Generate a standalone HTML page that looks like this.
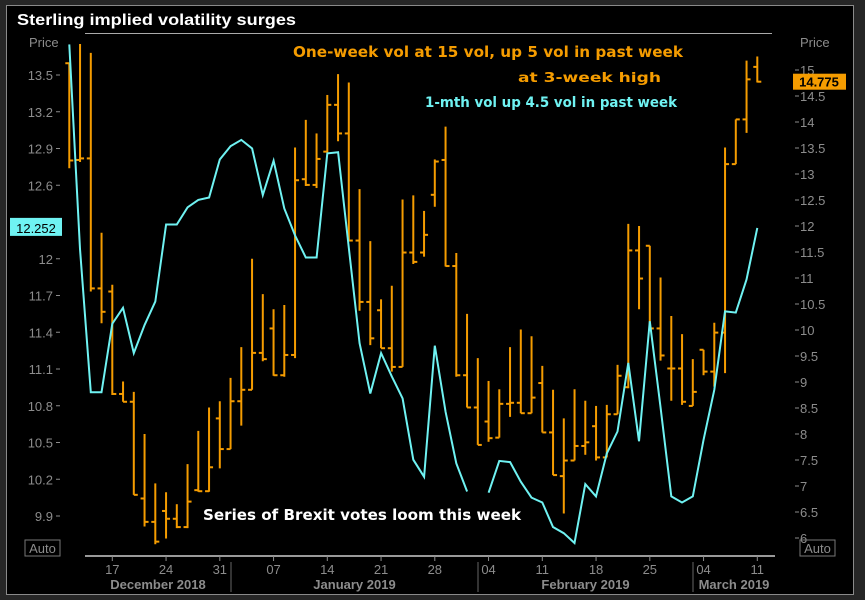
<!DOCTYPE html>
<html><head><meta charset="utf-8"><style>
body{margin:0;background:#262626;width:865px;height:600px;overflow:hidden;font-family:"Liberation Sans",sans-serif;}
#frame{position:absolute;left:6px;top:5px;width:846px;height:588px;background:#000;border:1px solid #8a8a8a;}
svg{position:absolute;left:0;top:0;}
.ann{font-family:"DejaVu Sans","Liberation Sans",sans-serif;font-weight:bold;}
</style></head><body>
<div id="frame"></div>
<svg id="chart" width="865" height="600">
<text x="17" y="25" fill="#fff" font-weight="bold" font-size="16" textLength="279" lengthAdjust="spacingAndGlyphs">Sterling implied volatility surges</text>
<line x1="85" y1="33.5" x2="772" y2="33.5" stroke="#aaa" stroke-width="1"/>
<text x="29" y="47" fill="#8c8c8c" font-size="13">Price</text>
<text x="800" y="47" fill="#8c8c8c" font-size="13">Price</text>
<text class="ann" x="293" y="57" fill="#f59c00" font-size="15" textLength="390" lengthAdjust="spacingAndGlyphs">One-week vol at 15 vol, up 5 vol in past week</text>
<text class="ann" x="518" y="82" fill="#f59c00" font-size="13" textLength="143" lengthAdjust="spacingAndGlyphs">at 3-week high</text>
<text class="ann" x="425" y="107" fill="#6ff2f2" font-size="14" textLength="252" lengthAdjust="spacingAndGlyphs">1-mth vol up 4.5 vol in past week</text>
<text class="ann" x="203" y="520" fill="#fff" font-size="15" textLength="318" lengthAdjust="spacingAndGlyphs">Series of Brexit votes loom this week</text>
<g id="axes"></g><g id="marks"></g><g id="labels"></g>
</svg>
<script>
const categories = ["Dec11","Dec12","Dec13","Dec14","Dec17","Dec18","Dec19","Dec20","Dec21","Dec24","Dec26","Dec27","Dec28","Dec31","Jan02","Jan03","Jan04","Jan07","Jan08","Jan09","Jan10","Jan11","Jan14","Jan15","Jan16","Jan17","Jan18","Jan21","Jan22","Jan23","Jan24","Jan25","Jan28","Jan29","Jan30","Jan31","Feb01","Feb04","Feb05","Feb06","Feb07","Feb08","Feb11","Feb12","Feb13","Feb14","Feb15","Feb18","Feb19","Feb20","Feb21","Feb22","Feb25","Feb26","Feb27","Feb28","Mar01","Mar04","Mar05","Mar06","Mar07","Mar08","Mar11","Mar12","Mar12b"];
const oneMonth = [13.75,12.08,10.91,10.91,11.47,11.60,11.23,11.46,11.65,12.28,12.28,12.42,12.48,12.50,12.81,12.92,12.97,12.90,12.52,12.80,12.41,12.19,12.01,12.01,12.86,12.87,12.09,11.31,10.90,11.23,11.04,10.86,10.36,10.22,11.29,10.75,10.33,10.10,null,10.09,10.35,10.34,10.18,10.05,10.01,9.81,9.76,9.68,10.16,10.06,10.41,10.59,11.15,10.51,11.49,10.79,10.06,10.01,10.06,10.52,10.93,11.57,11.56,11.83,12.252];
const wkOpen = [15.13,13.27,13.30,10.80,10.74,8.77,8.62,6.76,6.31,6.52,6.37,6.21,6.92,6.90,8.30,7.71,8.63,8.85,9.56,10.03,9.13,9.52,12.90,12.79,13.43,14.33,13.78,11.72,10.54,10.38,9.65,9.29,11.49,11.49,12.60,13.27,11.23,9.13,8.51,8.24,7.93,8.58,8.60,8.40,8.98,8.03,7.19,7.49,7.77,8.15,7.55,8.38,8.90,11.53,11.62,10.03,9.26,9.26,8.54,9.62,9.20,9.95,13.19,14.05,15.06];
const wkHigh = [15.13,15.50,15.33,11.87,10.87,9.01,8.81,8.00,7.05,6.88,6.65,7.42,8.06,8.51,8.63,9.08,9.67,11.37,10.69,10.40,10.48,13.51,14.04,13.78,14.52,14.92,14.76,12.71,11.71,10.59,10.85,12.51,12.59,12.29,13.28,13.91,11.48,10.31,9.46,9.02,8.86,9.67,10.01,9.88,9.31,8.85,8.30,8.86,8.64,8.54,8.56,9.33,12.04,12.00,11.62,11.01,10.27,9.92,9.44,9.62,10.14,13.51,14.05,15.18,15.26];
const wkLow = [13.11,13.23,10.74,10.13,8.75,8.62,6.83,6.22,5.88,5.99,6.19,6.19,6.89,6.89,7.34,7.71,8.16,8.85,9.40,9.12,9.10,9.46,12.77,12.73,13.41,13.63,11.72,10.37,9.71,9.65,9.20,9.29,11.27,11.41,12.37,11.22,9.10,8.51,7.79,7.85,7.93,8.33,8.40,8.40,8.03,7.21,6.47,7.49,7.60,7.49,7.55,8.38,8.88,10.40,9.99,9.41,8.64,8.56,8.54,9.13,8.91,9.17,13.19,13.79,14.76];
const wkClose = [13.26,13.30,10.80,10.35,8.77,8.62,6.83,6.31,5.93,6.37,6.21,6.70,6.90,7.36,7.71,8.63,8.85,9.56,9.44,9.13,9.52,12.88,12.79,13.29,14.33,13.78,11.72,10.54,9.84,9.65,9.29,11.49,11.31,11.83,13.24,11.23,9.13,8.51,7.79,7.92,8.58,8.60,8.40,8.70,8.03,7.21,7.49,7.77,7.84,7.55,8.38,9.12,11.53,10.99,10.03,9.51,9.26,8.62,8.81,9.20,9.95,13.19,14.05,14.82,14.775];
const leftTicks = [13.5,13.2,12.9,12.6,12.3,12,11.7,11.4,11.1,10.8,10.5,10.2,9.9];
const rightTicks = [15,14.5,14,13.5,13,12.5,12,11.5,11,10.5,10,9.5,9,8.5,8,7.5,7,6.5,6];
const xTickLabels = ["17","24","31","07","14","21","28","04","11","18","25","04","11"];
const xTickIndex = [4,9,14,19,24,29,34,39,44,49,54,59,64];
const monthLabels = ["December 2018","January 2019","February 2019","March 2019"];

const NS="http://www.w3.org/2000/svg";
const X0=69.3, DX=10.75;
const x = i => X0 + i*DX;
const yL = v => 75 + (13.5 - v)*122.5;
const yR = v => 70 + (15 - v)*52;
function mk(tag, attrs, parent, text){const e=document.createElementNS(NS,tag);for(const k in attrs)e.setAttribute(k,attrs[k]);if(text!==undefined)e.textContent=text;parent.appendChild(e);return e;}
const axes=document.getElementById('axes'), marks=document.getElementById('marks'), labels=document.getElementById('labels');

leftTicks.forEach(v=>{
  const t=mk('text',{x:53,y:yL(v)+5,fill:'#8c8c8c','font-size':13,'text-anchor':'end'},axes,String(v));
  
  
  const l=mk('line',{x1:56,x2:60,y1:yL(v),y2:yL(v),stroke:'#8c8c8c'},axes);
  
  
});
rightTicks.forEach(v=>{
  const l=mk('line',{x1:795,x2:799,y1:yR(v),y2:yR(v),stroke:'#8c8c8c'},axes);
  
  
  const t=mk('text',{x:800,y:yR(v)+5,fill:'#8c8c8c','font-size':13},axes,String(v));
  
  
});
const ax=mk('line',{x1:85,x2:775,y1:556,y2:556,stroke:'#ccc','stroke-width':1.5},axes);


xTickLabels.forEach((s,k)=>{
  const xx=x(xTickIndex[k]);
  const l=mk('line',{x1:xx,x2:xx,y1:556,y2:561,stroke:'#8c8c8c'},axes);
  
  
  const t=mk('text',{x:xx,y:574,fill:'#8c8c8c','font-size':13,'text-anchor':'middle'},axes,s);
  
  
});
const monthBounds=[85,231,478,693,775];
monthLabels.forEach((m,k)=>{
  const t=mk('text',{x:(monthBounds[k]+monthBounds[k+1])/2,y:589,fill:'#8c8c8c','font-size':13,'font-weight':'bold','text-anchor':'middle'},axes,m);
  
  
  if(k>0){const l=mk('line',{x1:monthBounds[k],x2:monthBounds[k],y1:562,y2:592,stroke:'#666'},axes);
  
  }
});

wkOpen.forEach((o,i)=>{
  const g=mk('g',{stroke:'#f59c00','stroke-width':2},marks);
  
  
  const xx=x(i);
  mk('line',{x1:xx,x2:xx,y1:yR(wkHigh[i]),y2:yR(wkLow[i])},g);
  mk('line',{x1:xx-4,x2:xx,y1:yR(o),y2:yR(o)},g);
  mk('line',{x1:xx,x2:xx+4,y1:yR(wkClose[i]),y2:yR(wkClose[i])},g);
});
let segs=[],cur=[];
oneMonth.forEach((v,i)=>{if(v===null){if(cur.length)segs.push(cur);cur=[];}else cur.push(x(i).toFixed(1)+','+yL(v).toFixed(1));});
if(cur.length)segs.push(cur);
segs.forEach(s=>{
  const p=mk('polyline',{points:s.join(' '),fill:'none',stroke:'#6ff2f2','stroke-width':2},marks);
  
  
});

const lastC=oneMonth[oneMonth.length-1], lastO=wkClose[wkClose.length-1];
const r1=mk('rect',{x:10,y:yL(lastC)-10,width:52,height:18,fill:'#6ff2f2'},labels);


const t1=mk('text',{x:36,y:yL(lastC)+5,fill:'#000','font-size':13,'text-anchor':'middle'},labels,String(lastC));


const r2=mk('rect',{x:793,y:yR(lastO)-8,width:53,height:16,fill:'#f59c00'},labels);


const t2=mk('text',{x:819,y:yR(lastO)+5,fill:'#000','font-size':13,'font-weight':'bold','text-anchor':'middle'},labels,String(lastO));


[[25,'left-auto-button'],[800,'right-auto-button']].forEach(([bx,nm])=>{
  const r=mk('rect',{x:bx,y:540,width:35,height:16,fill:'none',stroke:'#777'},labels);
  
  
  const t=mk('text',{x:bx+17.5,y:553,fill:'#8c8c8c','font-size':13,'text-anchor':'middle'},labels,'Auto');
  
  
});
</script>
</body></html>
